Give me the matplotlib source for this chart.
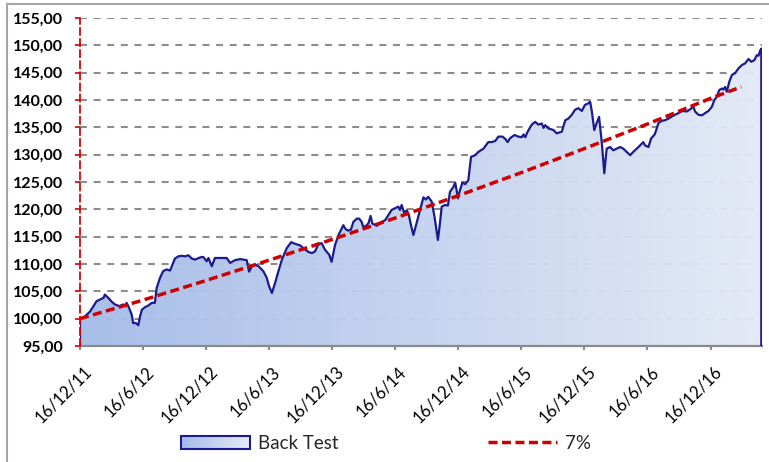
import numpy as np
import pandas as pd
import matplotlib
matplotlib.use('Agg')
import matplotlib.pyplot as plt
import matplotlib.dates as mdates
from matplotlib.colors import LinearSegmentedColormap
from matplotlib.patches import Rectangle, Polygon, Patch
from matplotlib.lines import Line2D
from matplotlib.legend_handler import HandlerBase
from matplotlib.ticker import MultipleLocator, FuncFormatter
from matplotlib.transforms import ScaledTranslation

plt.rcParams['font.family'] = ['Lato', 'DejaVu Sans']
plt.rcParams['lines.scale_dashes'] = False

start = pd.Timestamp('2011-12-16')

# Back Test: days after 16/12/2011 and index level
bt_days = [0, 14, 29, 39, 48, 58, 68, 72, 82, 92, 101, 114, 125, 130, 135, 142,
           150, 154, 162, 169, 174, 179, 188, 198, 208, 217, 222, 232, 241, 251,
           261, 266, 275, 285, 295, 304, 314, 324, 333, 348, 357, 367, 372, 382,
           391, 411, 425, 435, 449, 464, 483, 490, 498, 507, 517, 531, 541, 548,
           556, 565, 575, 585, 599, 612, 623, 638, 647, 662, 672, 681, 691, 700,
           710, 722, 729, 739, 749, 763, 768, 776, 785, 792, 802, 809, 816, 821,
           831, 836, 842, 847, 860, 874, 884, 893, 903, 913, 922, 927, 932, 939,
           947, 953, 959, 966, 976, 985, 995, 1002, 1009, 1019, 1027, 1037, 1043,
           1048, 1058, 1066, 1072, 1082, 1087, 1092, 1095, 1101, 1108, 1116, 1125,
           1133, 1145, 1154, 1169, 1183, 1193, 1203, 1212, 1224, 1232, 1239, 1246,
           1259, 1270, 1280, 1285, 1290, 1297, 1309, 1319, 1328, 1338, 1343, 1348,
           1357, 1372, 1381, 1396, 1406, 1415, 1425, 1434, 1444, 1454, 1463, 1473,
           1478, 1483, 1490, 1497, 1504, 1512, 1519, 1526, 1536, 1545, 1555, 1565,
           1574, 1584, 1594, 1603, 1613, 1623, 1632, 1637, 1647, 1655, 1664, 1668,
           1676, 1686, 1695, 1705, 1715, 1724, 1734, 1746, 1758, 1768, 1777, 1782,
           1792, 1802, 1811, 1821, 1831, 1838, 1845, 1852, 1860, 1864, 1869, 1874,
           1881, 1889, 1898, 1908, 1918, 1927, 1937, 1945, 1954, 1961, 1966, 1971,
           1974]
bt_value = [100.0, 100.4, 101.3, 102.3, 103.2, 103.5, 103.8, 104.4, 103.8, 103.1,
            102.6, 102.3, 102.6, 102.3, 102.9, 102.0, 100.7, 99.2, 99.2, 98.8,
            100.4, 101.6, 102.1, 102.4, 102.9, 102.9, 105.6, 107.5, 108.7, 109.0,
            108.8, 109.6, 111.0, 111.4, 111.5, 111.4, 111.6, 111.0, 110.8, 111.2,
            111.3, 110.5, 111.1, 109.6, 111.1, 111.1, 111.1, 110.2, 110.7, 110.9,
            110.7, 108.6, 109.6, 109.9, 109.6, 108.7, 107.5, 105.9, 104.7, 106.5,
            108.7, 110.8, 112.9, 114.0, 113.7, 113.4, 112.9, 112.2, 112.0, 112.3,
            113.7, 113.8, 112.6, 111.7, 110.4, 113.5, 115.3, 117.1, 116.5, 116.1,
            116.3, 117.7, 118.3, 118.3, 117.7, 116.7, 117.1, 117.5, 118.8, 117.4,
            117.0, 117.7, 118.0, 118.9, 119.9, 120.2, 120.5, 119.9, 120.8, 119.4,
            119.8, 118.9, 117.1, 115.3, 117.7, 119.9, 122.2, 121.8, 122.3, 121.4,
            118.7, 114.4, 117.5, 120.5, 120.8, 120.7, 123.2, 124.1, 124.9, 123.2,
            122.0, 123.5, 124.9, 124.6, 125.3, 129.6, 129.9, 130.5, 131.1, 132.3,
            132.3, 132.5, 133.3, 133.3, 132.9, 132.3, 133.0, 133.6, 133.3, 133.2,
            133.7, 133.2, 134.2, 135.5, 136.0, 135.5, 135.7, 134.9, 135.4, 134.8,
            134.5, 133.9, 134.2, 136.3, 136.6, 137.3, 138.2, 138.5, 138.0, 139.1,
            139.4, 139.7, 137.9, 134.5, 135.8, 136.9, 132.1, 126.6, 131.1, 131.4,
            130.8, 131.1, 131.4, 131.1, 130.5, 129.9, 130.5, 131.1, 131.7, 132.3,
            131.7, 131.4, 133.0, 133.6, 134.2, 135.8, 136.2, 136.3, 136.6, 137.0,
            137.3, 137.6, 138.0, 137.9, 138.3, 138.8, 137.9, 137.3, 137.2, 137.6,
            138.0, 138.8, 140.0, 140.6, 141.8, 142.1, 141.9, 142.4, 141.5, 143.3,
            144.6, 144.9, 145.8, 146.4, 146.7, 147.5, 147.0, 147.3, 148.2, 148.1,
            149.1, 149.4]

# 7% reference line, read at each half-year tick and at its end
trend_dates = ['2011-12-16', '2012-06-16', '2012-12-16', '2013-06-16', '2013-12-16',
               '2014-06-16', '2014-12-16', '2015-06-16', '2015-12-16', '2016-06-16',
               '2016-12-16', '2017-03-15']
trend_value = [100.0, 103.4, 107.0, 110.7, 114.5, 118.4, 122.5, 126.7, 131.1,
               135.6, 140.3, 142.4]

tick_dates = trend_dates[:-1]
tick_labels = ['16/12/11', '16/6/12', '16/12/12', '16/6/13', '16/12/13', '16/6/14',
               '16/12/14', '16/6/15', '16/12/15', '16/6/16', '16/12/16']

navy = '#1b1b8f'
red = '#cc0000'
grad = LinearSegmentedColormap.from_list('bt', ['#a4bce8', '#e3e9f6'])

fig = plt.figure(figsize=(7.69, 4.62), dpi=100, facecolor='white')
ax = fig.add_axes([80 / 769, 1 - 346 / 462, 682 / 769, 328 / 462])

x = mdates.date2num(start + pd.to_timedelta(bt_days, unit='D'))
v = np.array(bt_value)
y0 = 95

# gradient area
verts = np.column_stack([np.r_[x[0], x, x[-1]], np.r_[y0, v, y0]])
poly = Polygon(verts, closed=True, facecolor='none', edgecolor='none')
ax.add_patch(poly)
img = ax.imshow(np.linspace(0, 1, 256).reshape(1, -1), cmap=grad, aspect='auto',
                extent=[x[0], x[-1], y0, 155], origin='lower', zorder=2, alpha=0.96)
img.set_clip_path(poly)
ax.plot(verts[:, 0], verts[:, 1], color=navy, lw=1.6, zorder=3, solid_joinstyle='round')

tx = mdates.date2num(pd.to_datetime(trend_dates))
ax.plot(tx, trend_value, color=red, lw=2.5, ls=(0, (6.5, 3.2)), zorder=4,
        dash_capstyle='butt')

ax.set_xlim(mdates.date2num(start), mdates.date2num(start + pd.Timedelta(days=1976)))
ax.set_ylim(95, 155)

# y axis
ax.yaxis.set_major_locator(MultipleLocator(5))
ax.yaxis.set_major_formatter(FuncFormatter(lambda val, p: f'{val:.2f}'.replace('.', ',')))
ax.tick_params(axis='y', direction='out', length=3.6, width=1.2, color=red, pad=8.5,
               labelsize=11.5)
for lab in ax.get_yticklabels():
    lab.set_fontweight('bold')
ax.grid(axis='y', color='#8c8c8c', lw=1.5, ls=(0, (5, 4.8)), zorder=1)
ax.set_axisbelow(True)

# x axis
ax.set_xticks(mdates.date2num(pd.to_datetime(tick_dates)))
ax.set_xticklabels(tick_labels, rotation=45, ha='right', va='top', rotation_mode='anchor',
                   fontsize=12)
ax.tick_params(axis='x', direction='out', length=3, width=1.5, color='#8a8a8a', pad=9.5)
shift = ScaledTranslation(3 / 100, 0, fig.dpi_scale_trans)
for lab in ax.get_xticklabels():
    lab.set_transform(lab.get_transform() + shift)

for s in ('top', 'right'):
    ax.spines[s].set_visible(False)
ax.spines['bottom'].set_color('#8a8a8a')
ax.spines['bottom'].set_linewidth(1.6)
ax.spines['left'].set_color('#e00000')
ax.spines['left'].set_linewidth(1.3)
ax.spines['left'].set_linestyle((0, (5, 3)))
ax.spines['left'].set_zorder(5)


class GradientHandler(HandlerBase):
    def create_artists(self, legend, orig_handle, xdescent, ydescent, width, height,
                       fontsize, trans):
        n = 40
        arts = []
        for i in range(n):
            arts.append(Rectangle((-xdescent + width * i / n, -ydescent), width / n + 0.3,
                                  height, facecolor=grad(i / (n - 1)), edgecolor='none',
                                  transform=trans))
        arts.append(Rectangle((-xdescent, -ydescent), width, height, facecolor='none',
                              edgecolor=navy, lw=1.5, transform=trans))
        return arts


h1 = Patch(label='Back Test')
h2 = Line2D([], [], color=red, lw=2.5, ls=(0, (6.5, 3.2)), label='7%')
leg = fig.legend(handles=[h1, h2], handler_map={Patch: GradientHandler()},
                 loc='center', bbox_to_anchor=(0.502, 0.04), ncol=2, frameon=False,
                 fontsize=13.5, handlelength=3.65, handleheight=0.75, handletextpad=0.42,
                 columnspacing=8.0)
for t in leg.get_texts():
    t.set_color('#262626')

# outer chart frame (top and left edges visible in the crop)
fig.add_artist(Line2D([7 / 769, 1], [1 - 4 / 462, 1 - 4 / 462], transform=fig.transFigure,
                      color='#a6a6a6', lw=1.5))
fig.add_artist(Line2D([7 / 769, 7 / 769], [0, 1 - 4 / 462], transform=fig.transFigure,
                      color='#a6a6a6', lw=1.5))

fig.savefig('out.png', dpi=100, facecolor='white')
